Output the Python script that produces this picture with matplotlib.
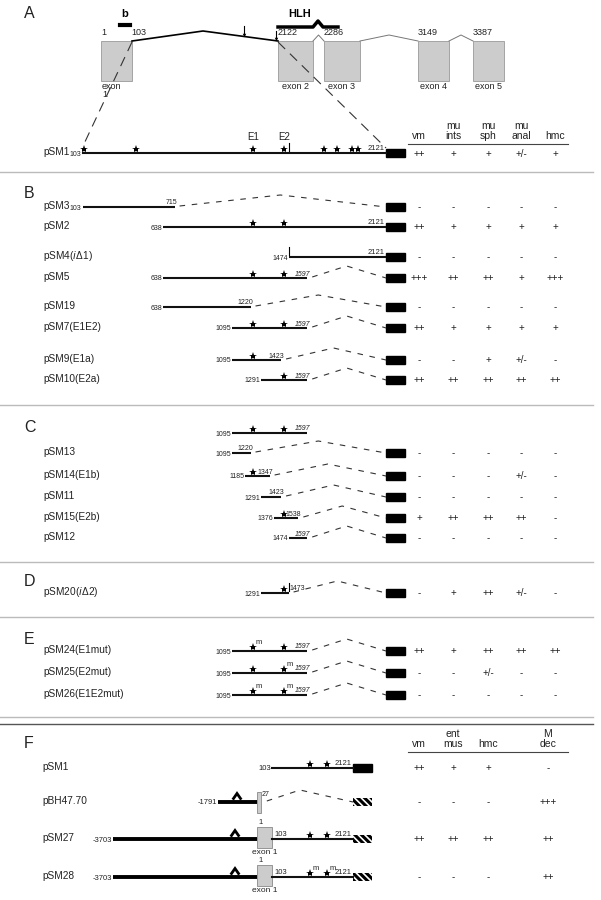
import numpy as np
import matplotlib.pyplot as plt
from matplotlib.patches import Rectangle

plt.rcParams['font.family'] = ['Liberation Sans', 'DejaVu Sans']
plt.rcParams['hatch.linewidth'] = 2.2

# gene model (panel A)
exon_names = ['exon\n1', 'exon 2', 'exon 3', 'exon 4', 'exon 5']
exon_start = [1, 2122, 2286, 3149, 3387]
exon_end = [103, 2240, 2400, 3260, 3500]
exon_top_labels = [['1', '103'], ['2122'], ['2286'], ['3149'], ['3387']]
intron_marks = [1652, 2094]

# expression columns
cols_a = ['vm', 'mu\nints', 'mu\nsph', 'mu\nanal', 'hmc']
cols_f = ['vm', 'ent\nmus', 'hmc', 'M\ndec']

# pSM1 reporter, panel A
a_stars = [110, 458, 1236, 1442, 1708, 1795, 1895, 1935]
a_scores = ['++', '+', '+', '+/-', '+']

# panel B
b_names = ['pSM3', 'pSM2', r'pSM4($\it{i}$Δ1)', 'pSM5', 'pSM19', 'pSM7(E1E2)', 'pSM9(E1a)', 'pSM10(E2a)']
b_start = [103, 638, 1474, 638, 638, 1095, 1095, 1291]
b_end = [715, 2121, 2121, 1597, 1220, 1597, 1423, 1597]
b_stars = [[], [1236, 1442], [], [1236, 1442], [], [1236, 1442], [1236], [1442]]
b_ticks = [[], [], [1474], [], [], [], [], []]
b_scores = [['-', '-', '-', '-', '-'],
            ['++', '+', '+', '+', '+'],
            ['-', '-', '-', '-', '-'],
            ['+++', '++', '++', '+', '+++'],
            ['-', '-', '-', '-', '-'],
            ['++', '+', '+', '+', '+'],
            ['-', '-', '+', '+/-', '-'],
            ['++', '++', '++', '++', '++']]

# panel C (first row is the reference fragment)
c_names = ['', 'pSM13', 'pSM14(E1b)', 'pSM11', 'pSM15(E2b)', 'pSM12']
c_start = [1095, 1095, 1185, 1291, 1376, 1474]
c_end = [1597, 1220, 1347, 1423, 1538, 1597]
c_stars = [[1236, 1442], [], [1236], [], [1442], []]
c_scores = [None,
            ['-', '-', '-', '-', '-'],
            ['-', '-', '-', '+/-', '-'],
            ['-', '-', '-', '-', '-'],
            ['+', '++', '++', '++', '-'],
            ['-', '-', '-', '-', '-']]

# panel D
d_names = [r'pSM20($\it{i}$Δ2)']
d_start = [1291]
d_end = [1473]
d_stars = [[1442]]
d_scores = [['-', '+', '++', '+/-', '-']]

# panel E
e_names = ['pSM24(E1mut)', 'pSM25(E2mut)', 'pSM26(E1E2mut)']
e_stars = [1236, 1442]
e_mut = [[True, False], [False, True], [True, True]]
e_scores = [['++', '+', '++', '++', '++'],
            ['-', '-', '+/-', '-', '-'],
            ['-', '-', '-', '-', '-']]

# panel F
f_names = ['pSM1', 'pBH47.70', 'pSM27', 'pSM28']
f_start = [103, -1791, -3703, -3703]
f_stars = [1050, 1480]
f_scores = [['++', '+', '+', '-'],
            ['-', '-', '-', '+++'],
            ['++', '++', '++', '++'],
            ['-', '-', '-', '++']]
f_caret = -918

TXT = '#222222'

fig = plt.figure(figsize=(6.01, 9.0), dpi=100)
ax = fig.add_axes([0, 0, 1, 1])
ax.set_xlim(0, 601)
ax.set_ylim(900, 0)
ax.axis('off')


def gx(s):
    # gene model coordinate -> pixel
    return np.interp(s, [1, 103, 2122, 2240, 2286, 2400, 3149, 3260, 3387, 3500],
                     [101, 132, 278, 313, 324, 360, 418, 449, 473, 504])


def sx(s):
    # construct coordinate -> pixel (panels A-E)
    return 163 + (np.asarray(s) - 638) * 0.1504


def fx(s):
    # panel F coordinate -> pixel
    return np.interp(s, [-3703, -1791, 1, 103, 2121], [113, 218, 257, 272, 353])


BOX0, BOX1 = sx(2121), sx(2121) + 19
col_a_x = [419, 453, 488, 521, 555]
col_f_x = [419, 453, 488, 548]


def scores(y, vals, xs):
    if vals is None:
        return
    for x, v in zip(xs, vals):
        ax.text(x, y, v, ha='center', va='center', fontsize=7, color=TXT)


def star(x, y, mut=False):
    ax.plot(x, y - 4, marker='*', ms=6, color='k', mew=0)
    if mut:
        ax.text(x + 2.5, y - 5, 'm', fontsize=5.5, color=TXT, va='bottom', ha='left')


def construct(y, name, s0, s1, stars=(), muts=None, ticks=(), box=True):
    x0, x1 = sx(s0), sx(s1)
    if name:
        ax.text(43, y - 1, name, fontsize=7.3, color=TXT, va='center', ha='left')
    ax.plot([x0, x1], [y, y], color='#111111', lw=1.5, solid_capstyle='butt')
    ax.text(x0 - 1, y + 1, str(s0), fontsize=5, color=TXT, ha='right', va='center')
    for i, s in enumerate(stars):
        star(sx(s), y, muts[i] if muts else False)
    for t in ticks:
        ax.plot([sx(t), sx(t)], [y - 10, y - 2], color='k', lw=0.8)
    if s1 == 2121:
        ax.text(x1 - 1, y - 1, '2121', fontsize=5.5, color=TXT, ha='right', va='bottom')
    else:
        lx = x1 + 3 if not ticks and s1 != 1473 else x1 + 1
        ax.text(lx, y - 0.5, str(s1), fontsize=5, color=TXT, ha='right' if s1 != 1473 else 'left',
                va='bottom', style='italic' if s1 == 1597 else 'normal')
    if box:
        if s1 != 2121:
            px = x1 + 0.5 * (BOX0 - x1)
            ax.plot([x1 + 5, px, BOX0], [y - 1, y - 12, y], color='#333333', lw=0.8,
                    linestyle=(0, (5, 6)))
        ax.add_patch(Rectangle((BOX0, y - 4), 19, 8, color='k'))


def separator(y, c='#bbbbbb'):
    ax.plot([0, 593], [y, y], color=c, lw=1)


def panel(letter, y):
    ax.text(24, y, letter, fontsize=11.5, color=TXT, va='center', ha='left')


# ---- panel A ----
panel('A', 13)
ax.text(125, 14, 'b', fontsize=8, fontweight='bold', ha='center', va='center')
ax.plot([120, 130], [25, 25], color='k', lw=3)
ax.text(300, 14, 'HLH', fontsize=8, fontweight='bold', ha='center', va='center')
ax.plot([278, 313, 318, 323, 338], [27, 27, 21, 27, 27], color='k', lw=2.5)

for i in range(5):
    a, b = gx(exon_start[i]), gx(exon_end[i])
    ax.add_patch(Rectangle((a, 41), b - a, 40, facecolor='#cccccc', edgecolor='#999999', lw=0.6))
    if i == 0:
        ax.text(a + 1, 82, exon_names[i], fontsize=6.5, color=TXT, ha='left', va='top', linespacing=0.9)
        ax.text(a, 37, exon_top_labels[i][0], fontsize=6.5, color=TXT, ha='left', va='bottom')
        ax.text(b - 1, 37, exon_top_labels[i][1], fontsize=6.5, color=TXT, ha='left', va='bottom')
    else:
        ax.text((a + b) / 2, 82, exon_names[i], fontsize=6.5, color=TXT, ha='center', va='top')
        ax.text(a, 37, exon_top_labels[i][0], fontsize=6.5, color=TXT, ha='left', va='bottom')

# introns
ax.plot([gx(103), 203, gx(2122)], [41, 31, 41], color='k', lw=1.2)
for k in range(1, 4):
    a, b = gx(exon_end[k]), gx(exon_start[k + 1])
    ax.plot([a, (a + b) / 2, b], [41, 35, 41], color='#777777', lw=0.7)
for m in intron_marks:
    xm = gx(103) + (m - 103) / (2122 - 103) * (gx(2122) - gx(103))
    yl = 31 + (xm - 203) / (gx(2122) - 203) * 10 if xm > 203 else 31
    ax.plot([xm, xm], [yl - 10, yl - 1], color='k', lw=0.8)
    ax.plot(xm, yl - 1.5, marker='v', ms=2.5, color='k', mew=0)

# zoom lines from gene model to pSM1
ax.plot([gx(103), sx(103)], [42, 147], color='#333333', lw=0.8, linestyle=(0, (9, 6)))
ax.plot([gx(2122), BOX0], [42, 148], color='#333333', lw=0.8, linestyle=(0, (9, 6)))

# pSM1
ya = 153
ax.text(43, ya - 1, 'pSM1', fontsize=7.3, color=TXT, va='center', ha='left')
ax.text(sx(103) - 1, ya + 1.5, '103', fontsize=5, color=TXT, ha='right', va='center')
ax.plot([sx(103), sx(2121)], [ya, ya], color='#111111', lw=1.5)
for s in a_stars:
    star(sx(s), ya)
ax.text(sx(1236), 137, 'E1', fontsize=7, color=TXT, ha='center', va='center')
ax.text(sx(1442), 137, 'E2', fontsize=7, color=TXT, ha='center', va='center')
ax.plot([sx(1474), sx(1474)], [ya - 10, ya - 2], color='k', lw=0.8)
ax.text(sx(2121) - 1, ya - 1, '2121', fontsize=5.5, color=TXT, ha='right', va='bottom')
ax.add_patch(Rectangle((BOX0, ya - 4), 19, 8, color='k'))

for x, c in zip(col_a_x, cols_a):
    ax.text(x, 141, c, fontsize=7.5, color=TXT, ha='center', va='bottom', linespacing=1.0)
ax.plot([408, 568], [143.5, 143.5], color='#444444', lw=0.8)
scores(ya + 1, a_scores, col_a_x)

separator(172)

# ---- panel B ----
panel('B', 193)
b_y = [207, 227, 257, 278, 307, 328, 360, 380]
for i, y in enumerate(b_y):
    construct(y, b_names[i], b_start[i], b_end[i], b_stars[i], ticks=b_ticks[i])
    scores(y, b_scores[i], col_a_x)

separator(405)

# ---- panel C ----
panel('C', 428)
c_y = [433, 453, 476, 497, 518, 538]
for i, y in enumerate(c_y):
    construct(y, c_names[i], c_start[i], c_end[i], c_stars[i], box=(i > 0))
    scores(y, c_scores[i], col_a_x)

separator(562)

# ---- panel D ----
panel('D', 581)
d_y = [593]
for i, y in enumerate(d_y):
    construct(y, d_names[i], d_start[i], d_end[i], d_stars[i], ticks=[1474])
    scores(y, d_scores[i], col_a_x)

separator(617)

# ---- panel E ----
panel('E', 640)
e_y = [651, 673, 695]
for i, y in enumerate(e_y):
    construct(y, e_names[i], 1095, 1597, e_stars, muts=e_mut[i])
    scores(y, e_scores[i], col_a_x)

separator(717)
separator(724, '#555555')

# ---- panel F ----
panel('F', 743)
for x, c in zip(col_f_x, cols_f):
    ax.text(x, 749, c, fontsize=7.5, color=TXT, ha='center', va='bottom', linespacing=1.0)
ax.plot([408, 568], [751.5, 751.5], color='#444444', lw=0.8)

f_y = [768, 802, 839, 877]
HB0 = fx(2121)


def hatched(y):
    ax.add_patch(Rectangle((HB0, y - 4), 19, 8, facecolor='white', edgecolor='k',
                           hatch='\\' * 5, lw=0))


def caret(x, y):
    ax.plot([x - 3.5, x, x + 3.5], [y + 2.5, y - 2.5, y + 2.5], color='k', lw=2,
            solid_joinstyle='miter')


for i, y in enumerate(f_y):
    ax.text(42, y - 1, f_names[i], fontsize=7.3, color=TXT, va='center', ha='left')
    s0 = f_start[i]
    ax.text(fx(s0) - 1, y + 1, str(s0), fontsize=5.5, color=TXT, ha='right', va='center')
    if i == 0:
        ax.plot([fx(103), HB0], [y, y], color='#111111', lw=1.5)
        for s in f_stars:
            star(fx(s), y)
        ax.text(HB0 - 1, y - 1, '2121', fontsize=5.5, color=TXT, ha='right', va='bottom')
        ax.add_patch(Rectangle((HB0, y - 4), 19, 8, color='k'))
    elif i == 1:
        ax.plot([fx(s0), fx(1)], [y, y], color='k', lw=2.8, solid_capstyle='butt')
        caret(fx(f_caret), y - 6)
        ax.add_patch(Rectangle((fx(1), y - 10), fx(27) - fx(1), 21, facecolor='#cccccc',
                               edgecolor='#888888', lw=0.6))
        ax.text(fx(27) + 1, y - 8, '27', fontsize=5, color=TXT, ha='left', va='center')
        ax.plot([fx(27) + 6, 300, HB0], [y - 1, y - 12, y], color='#333333', lw=0.8,
                linestyle=(0, (5, 6)))
        hatched(y)
    else:
        ax.plot([fx(s0), fx(1)], [y, y], color='k', lw=2.8, solid_capstyle='butt')
        caret(fx(f_caret) - 2, y - 6)
        ax.add_patch(Rectangle((fx(1), y - 12), fx(103) - fx(1), 21, facecolor='#cccccc',
                               edgecolor='#888888', lw=0.6))
        ax.text(fx(1) + 1, y - 13, '1', fontsize=5.5, color=TXT, ha='left', va='bottom')
        ax.text(fx(103) + 2, y - 4, '103', fontsize=5.5, color=TXT, ha='left', va='center')
        ax.text((fx(1) + fx(103)) / 2, y + 14, 'exon 1', fontsize=6, color=TXT, ha='center', va='center')
        ax.plot([fx(103), HB0], [y, y], color='#111111', lw=1.5)
        for k, s in enumerate(f_stars):
            star(fx(s), y, mut=(i == 3))
        ax.text(HB0 - 1, y - 1, '2121', fontsize=5.5, color=TXT, ha='right', va='bottom')
        hatched(y)
    scores(y, f_scores[i], col_f_x)

fig.savefig('out.png', dpi=100)
